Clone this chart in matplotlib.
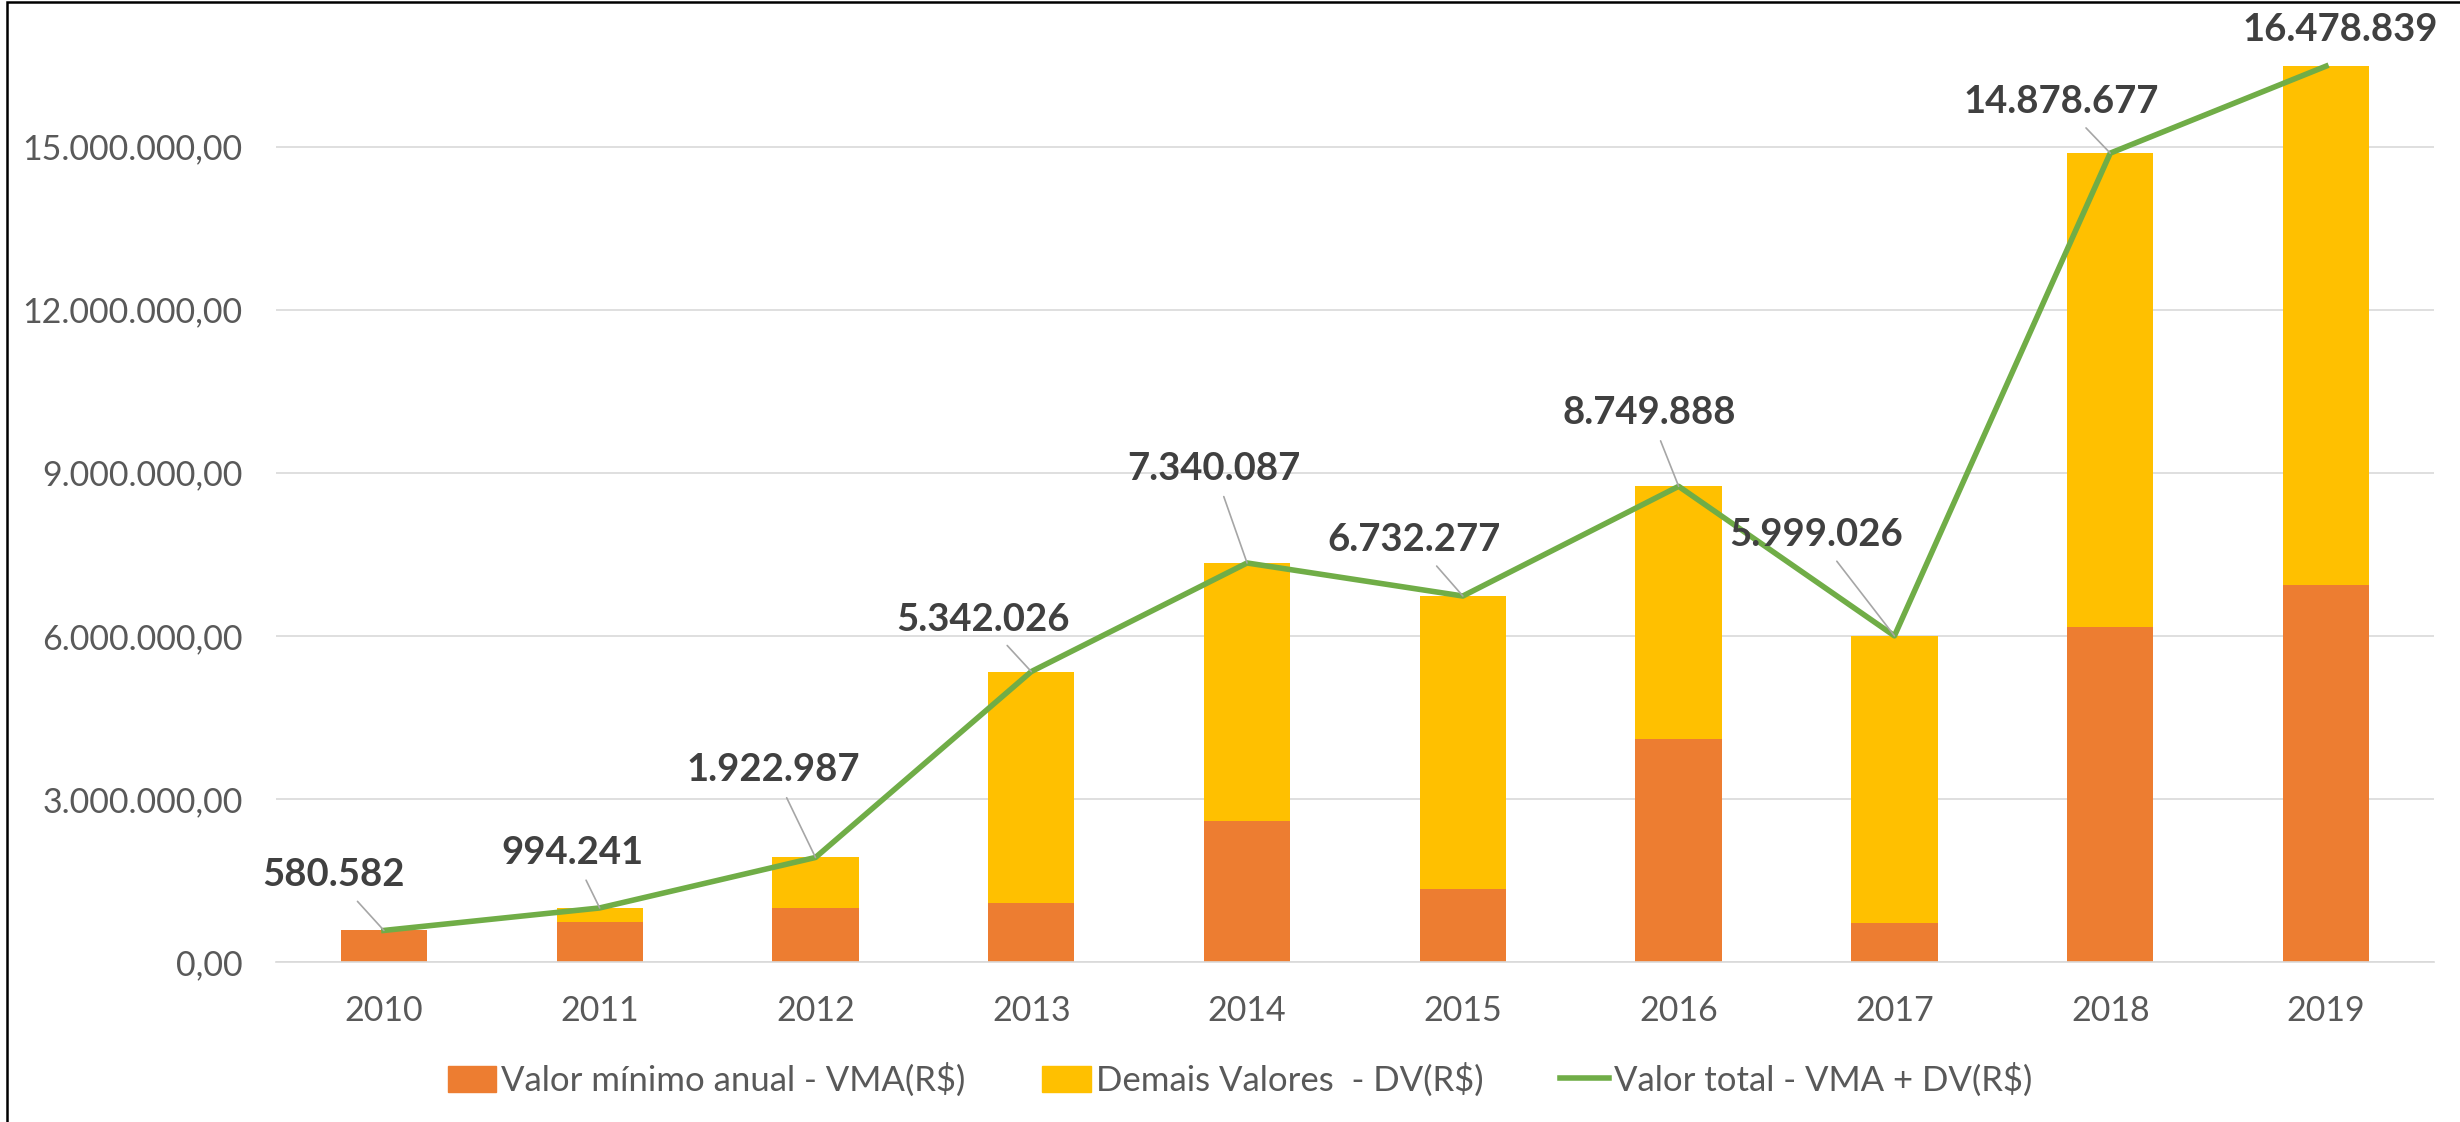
import matplotlib
matplotlib.use("Agg")
import numpy as np
import matplotlib.pyplot as plt
from matplotlib.lines import Line2D
from matplotlib.patches import Patch, Rectangle
from matplotlib.ticker import FuncFormatter

plt.rcParams['font.family'] = ['Lato', 'DejaVu Sans']

years = ["2010", "2011", "2012", "2013", "2014", "2015", "2016", "2017", "2018", "2019"]
# total = VMA + DV (labels on the chart)
total = [580582, 994241, 1922987, 5342026, 7340087, 6732277, 8749888, 5999026, 14878677, 16478839]
# VMA
vma = [580582, 737000, 1000000, 1080000, 2590000, 1343000, 4105000, 724000, 6160000, 6940000]
dv = [t - v for t, v in zip(total, vma)]

# label offsets in pixels (dx, dy) from each point
label_off = [(-50, 55), (-27, 55), (-42, 87), (-48, 52), (-33, 94),
             (-49, 56), (-29, 73), (-78, 101), (-49, 51), (14, 36)]

c_vma = "#ED7D31"
c_dv = "#FFC000"
c_tot = "#70AD47"
txt = "#595959"

fig = plt.figure(figsize=(24.6, 11.22), dpi=100)
ax = fig.add_axes([0.1122, 0.1426, 0.8772, 0.8484])

x = np.arange(len(years))
ax.bar(x, vma, width=0.4, color=c_vma, zorder=2)
ax.bar(x, dv, width=0.4, bottom=vma, color=c_dv, zorder=2)
ax.plot(x, total, color=c_tot, lw=4, zorder=3, solid_joinstyle='round')

def br(v, dec=0):
    s = f"{v:,.{dec}f}"
    return s.replace(",", "X").replace(".", ",").replace("X", ".")

for i, t in enumerate(total):
    dx, dy = label_off[i]
    props = None
    if i != len(total) - 1:
        props = dict(arrowstyle='-', color='#A6A6A6', lw=1.2, shrinkA=6, shrinkB=0)
    ax.annotate(br(t), (x[i], t), xytext=(dx, dy), textcoords='offset pixels',
                ha='center', va='center', fontsize=27.5, fontweight='bold',
                color='#404040', arrowprops=props, zorder=4)

ax.set_xlim(-0.5, len(years) - 0.5)
ax.set_ylim(0, 17.51e6)
ax.set_yticks(np.arange(0, 15.1e6, 3e6))
ax.yaxis.set_major_formatter(FuncFormatter(lambda v, p: br(v, 2)))
ax.set_xticks(x)
ax.set_xticklabels(years)
ax.tick_params(axis='both', length=0, labelsize=24.5, labelcolor=txt)
ax.tick_params(axis='x', pad=24)
ax.tick_params(axis='y', pad=24)
ax.grid(axis='y', color='#D9D9D9', lw=1.2, zorder=0)
for s in ['top', 'right', 'left']:
    ax.spines[s].set_visible(False)
ax.spines['bottom'].set_color('#D9D9D9')
ax.spines['bottom'].set_linewidth(1.2)

handles = [Patch(color=c_vma), Patch(color=c_dv), Line2D([0], [0], color=c_tot, lw=4)]
labels = ["Valor mínimo anual - VMA(R$)", "Demais Valores  - DV(R$)", "Valor total - VMA + DV(R$)"]
fig.legend(handles, labels, loc='center', bbox_to_anchor=(0.504, 1 - 1080 / 1122), ncol=3,
           frameon=False, fontsize=25, labelcolor=txt, handlelength=1.4, handleheight=0.8,
           handletextpad=0.15, columnspacing=2.2)

fig.patches.append(Rectangle((0.003, -0.1), 1.2, 1.098, transform=fig.transFigure,
                             fill=False, edgecolor='black', lw=1.8))

fig.savefig("out.png", dpi=100, facecolor='white')
